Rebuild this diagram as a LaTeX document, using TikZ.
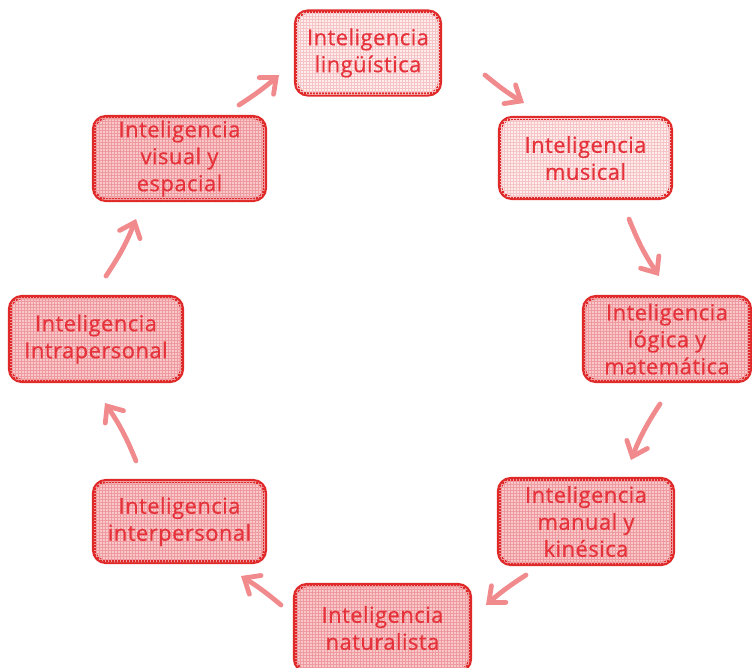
\documentclass[tikz,border=0pt]{standalone}
\usepackage{fontspec}
\setmainfont{Open Sans}
\usetikzlibrary{arrows.meta,patterns}
\definecolor{bord}{HTML}{E02A2A}
\definecolor{txt}{HTML}{E6323A}
\definecolor{arr}{HTML}{F08A8C}
\definecolor{lightf}{HTML}{FDEDED}
\definecolor{darkf}{HTML}{F8C8CA}
\definecolor{gridl}{HTML}{F6C4C6}
\definecolor{gridd}{HTML}{EE9A9E}
\begin{document}
\begin{tikzpicture}[x=1pt,y=-1pt,
  box/.style={draw=bord, line width=4.2pt, rounded corners=12pt, inner sep=0pt,
    align=center, text=txt, font=\fontsize{22}{27}\selectfont\addfontfeature{LetterSpace=2,FakeBold=0.5}},
  lightbox/.style={box, fill=lightf, postaction={pattern=grid, pattern color=gridl}},
  darkbox/.style={box, fill=darkf, postaction={pattern=grid, pattern color=gridd}},
  flow/.style={draw=arr, line width=4.8pt, line cap=round,
    -{Straight Barb[length=13pt,width=22pt,line cap=round]}}]
\useasboundingbox (0,0) rectangle (752,667);
\node[lightbox, minimum width=144pt, minimum height=83pt] (ling) at (368,53) {Inteligencia\\lingüística};
\node[lightbox, minimum width=171pt, minimum height=80pt] (mus) at (585.5,158) {Inteligencia\\musical};
\node[darkbox, minimum width=166pt, minimum height=84pt] (log) at (667,339) {Inteligencia\\lógica y\\matemática};
\node[darkbox, minimum width=174pt, minimum height=85pt] (man) at (586,521.5) {Inteligencia\\manual y\\kinésica};
\node[darkbox, minimum width=175pt, minimum height=86pt] (nat) at (382.5,628) {Inteligencia\\naturalista};
\node[darkbox, minimum width=171pt, minimum height=81pt] (inter) at (179.5,521.5) {Inteligencia\\interpersonal};
\node[darkbox, minimum width=172pt, minimum height=84pt] (intra) at (96,339) {Inteligencia\\Intrapersonal};
\node[darkbox, minimum width=171pt, minimum height=83pt] (vis) at (179.5,158.5) {Inteligencia\\visual y\\espacial};

\coordinate (a1s) at (485,75);  \coordinate (a1e) at (524,103);
\coordinate (a2s) at (629,219); \coordinate (a2e) at (659,276);
\coordinate (a3s) at (660,404); \coordinate (a3e) at (631,460);
\coordinate (a4s) at (526,575); \coordinate (a4e) at (486,605);
\coordinate (a5s) at (281,605); \coordinate (a5e) at (241,576);
\coordinate (a6s) at (136,461); \coordinate (a6e) at (105,403);
\coordinate (a7s) at (106,276); \coordinate (a7e) at (136,219);
\coordinate (a8s) at (239,105); \coordinate (a8e) at (279,75);

\draw[flow] (a1s) to[bend right=4] (a1e);
\draw[flow] (a2s) to[bend right=6] (a2e);
\draw[flow] (a3s) to[bend right=6] (a3e);
\draw[flow] (a4s) to[bend right=4] (a4e);
\draw[flow] (a5s) to[bend right=4] (a5e);
\draw[flow] (a6s) to[bend right=6] (a6e);
\draw[flow] (a7s) to[bend right=6] (a7e);
\draw[flow] (a8s) to[bend right=4] (a8e);
\end{tikzpicture}
\end{document}
